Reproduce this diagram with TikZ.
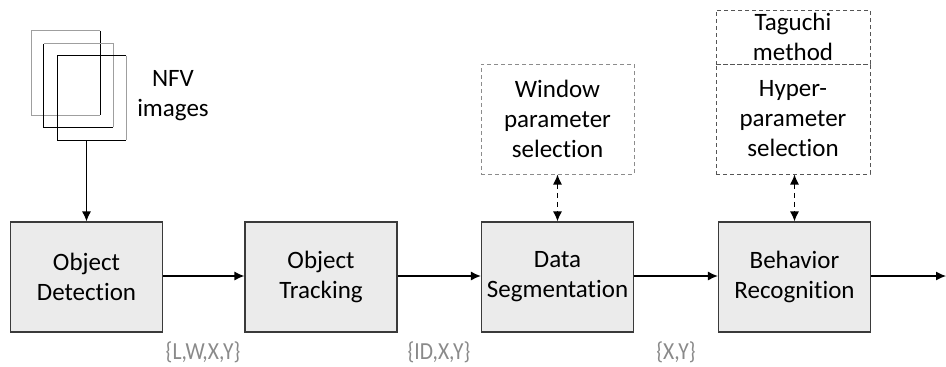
\documentclass[tikz,border=0pt]{standalone}
\usepackage{fontspec}
\setmainfont{Carlito}[RawFeature={-liga;-clig;-dlig}]
\usetikzlibrary{arrows.meta}
\definecolor{boxfill}{HTML}{EBEBEB}
\definecolor{boxline}{HTML}{3A3A3A}
\definecolor{lblgray}{HTML}{8A8A8A}
\definecolor{dashA}{HTML}{8C8C8C}
\definecolor{dashB}{HTML}{555555}
\begin{document}
\begin{tikzpicture}[x=1pt,y=-1pt,
  every node/.style={font=\fontsize{25}{30}\selectfont, align=center, inner sep=0pt},
  stagebox/.style={draw=boxline, fill=boxfill, line width=1.2pt, minimum width=152pt, minimum height=110pt},
  dbox/.style={draw=dashB, dash pattern=on 4pt off 3pt, line width=1pt, minimum width=154pt},
  lbl/.style={text=lblgray, font=\fontsize{24.5}{28}\selectfont},
  flow/.style={line width=1.2pt, -{Latex[length=10pt,width=9pt]}},
  dflow/.style={line width=1.2pt, dash pattern=on 5pt off 4pt, {Latex[length=10pt,width=9pt]}-{Latex[length=10pt,width=9pt]}}
]
\useasboundingbox (0,0) rectangle (946,367);

% image stack
\node[minimum width=68pt, minimum height=84pt] (r1) at (66,73) {};
\node[minimum width=69pt, minimum height=83pt] (r2) at (78.5,85.5) {};
\node[minimum width=68pt, minimum height=84pt] (r3) at (92,98) {};
\draw[gray!75, line width=1.1pt] (r1.north east) -- (r1.north west) -- (r1.south west) -- (r1.south east);
\draw[black, line width=1.1pt] (r1.north east) -- (r1.south east);
\draw[gray!75, line width=1.1pt] (r2.north west) -- (r2.north east) -- (r2.south east);
\draw[black, line width=1.1pt] (r2.north west) -- (r2.south west) -- (r2.south east);
\draw[black, line width=1.1pt] (r3.north east) -- (r3.north west) -- (r3.south west) -- (r3.south east);
\draw[gray!75, line width=1.1pt] (r3.north east) -- (r3.south east);
\node (nfv) at (173,96) {NFV\\images};

% stages
\node[stagebox] (od) at (86.5,277) {Object\\Detection};
\node[stagebox] (ot) at (321,277) {Object\\Tracking};
\node[stagebox] (ds) at (557.5,277) {Data\\Segmentation};
\node[stagebox] (br) at (794.5,277) {Behavior\\Recognition};
\coordinate (out) at (946,276);

% upper dashed boxes
\node[dbox, draw=dashA, minimum width=153pt, minimum height=110pt] (win) at (557.5,119) {Window\\parameter\\selection};
\node[dbox, minimum height=110pt] (hyp) at (793,119) {Hyper-\\parameter\\selection};
\node[dbox, minimum height=54pt] (tag) at (793,37) {Taguchi\\method};

% connectors
\coordinate (r3out) at (od.north |- r3.south);
\draw[flow] (r3out) -- (od.north);
\draw[flow] (od.east |- 0,276) -- (ot.west |- 0,276);
\draw[flow] (ot.east |- 0,276) -- (ds.west |- 0,276);
\draw[flow] (ds.east |- 0,276) -- (br.west |- 0,276);
\draw[flow] (br.east |- out) -- (out);
\draw[dflow] (ds.north |- win.south) -- (ds.north);
\draw[dflow] (br.north |- hyp.south) -- (br.north);

% data labels
\node[lbl] (l1) at (203,352) {\scalebox{0.88}[1]{\{L,W,X,Y\}}};
\node[lbl] (l2) at (439,352) {\scalebox{0.88}[1]{\{ID,X,Y\}}};
\node[lbl] (l3) at (676,352) {\scalebox{0.88}[1]{\{X,Y\}}};
\end{tikzpicture}
\end{document}
